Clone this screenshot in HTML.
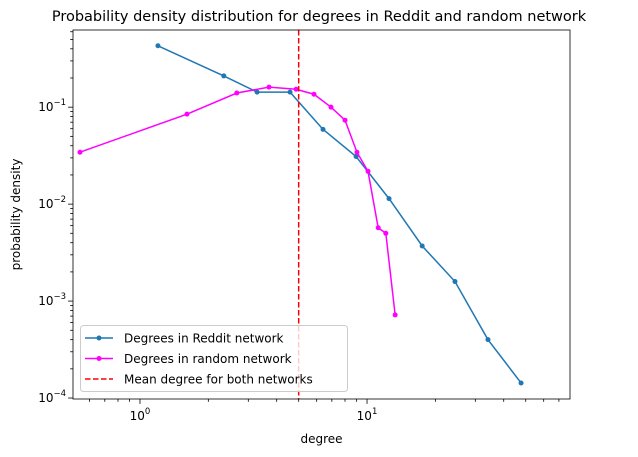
<!DOCTYPE html>
<html><head><meta charset="utf-8"><style>
html,body{margin:0;padding:0;background:#fff;}
svg{display:block;font-family:"DejaVu Sans","Liberation Sans",sans-serif;}
</style></head><body>
<svg id="chart" width="638" height="457" viewBox="0 0 638 457"></svg>
<script>
const redditX=[1.2,2.34,3.28,4.58,6.4,8.95,12.5,17.5,24.4,34.1,47.7];
const redditY=[0.43,0.21,0.143,0.143,0.059,0.031,0.0114,0.0037,0.00159,0.0004,0.000143];
const randomX=[0.544,1.61,2.67,3.7,4.87,5.84,6.94,8.0,9.03,10.1,11.2,12.1,13.3];
const randomY=[0.0343,0.0847,0.14,0.161,0.153,0.136,0.1,0.0734,0.0343,0.0218,0.0057,0.005,0.00072];
const meanDegree=[5.0];
const xTicks=[0,1];
const yTicks=[-4,-3,-2,-1];
const legendLabels=["Degrees in Reddit network","Degrees in random network","Mean degree for both networks"];

const L=73,R=570,T=30,B=399;
const xmin=-0.295,xmax=1.894,ymin=-4.01,ymax=-0.204;
const sx=v=>L+(Math.log10(v)-xmin)/(xmax-xmin)*(R-L);
const sy=v=>B-(Math.log10(v)-ymin)/(ymax-ymin)*(B-T);
const NS="http://www.w3.org/2000/svg";
const svg=document.getElementById('chart');
function mk(tag,attrs,parent){const e=document.createElementNS(NS,tag);for(const k in attrs)e.setAttribute(k,attrs[k]);(parent||svg).appendChild(e);return e;}

let t=mk('text',{x:319,y:21,'text-anchor':'middle','font-size':14.5,fill:'#000'});


t.textContent='Probability density distribution for degrees in Reddit and random network';

const ticks=mk('g',{stroke:'#000','stroke-width':0.8});


for(let d=-1;d<=1;d++){for(let m=1;m<10;m++){const v=m*Math.pow(10,d);const lv=Math.log10(v);if(lv<xmin||lv>xmax)continue;const x=sx(v);mk('line',{x1:x,x2:x,y1:B,y2:B+(m===1?4.9:2.8)},ticks);}}
for(let d=-5;d<=0;d++){for(let m=1;m<10;m++){const v=m*Math.pow(10,d);const lv=Math.log10(v);if(lv<ymin||lv>ymax)continue;const y=sy(v);mk('line',{x1:L,x2:L-(m===1?4.9:2.8),y1:y,y2:y},ticks);}}
xTicks.forEach(e=>{const x=sx(Math.pow(10,e));const g=mk('text',{x:x,y:B+21,'text-anchor':'middle','font-size':12});


g.innerHTML='10<tspan dy="-6" font-size="8.5">'+e+'</tspan>';});
yTicks.forEach(e=>{const y=sy(Math.pow(10,e));const g=mk('text',{x:L-7,y:y+4,'text-anchor':'end','font-size':12});


g.innerHTML='10<tspan dy="-6" font-size="8.5">'+(e<0?'\u2212'+(-e):e)+'</tspan>';});

let xl=mk('text',{x:(L+R)/2,y:443,'text-anchor':'middle','font-size':12});


xl.textContent='degree';
let yl=mk('text',{x:20,y:(T+B)/2,'text-anchor':'middle','font-size':12,transform:'rotate(-90 20 '+((T+B)/2)+')'});


yl.textContent='probability density';

function series(xs,ys,color,name){
  const g=mk('g',{});
  
  
  mk('polyline',{points:xs.map((x,i)=>sx(x)+','+sy(ys[i])).join(' '),fill:'none',stroke:color,'stroke-width':1.5},g);
  xs.forEach((x,i)=>{const c=mk('circle',{cx:sx(x),cy:sy(ys[i]),r:2.5,fill:color},g);
  
  });
}
series(redditX,redditY,'#1f77b4','reddit-series');
series(randomX,randomY,'#ff00ff','random-series');
let ml=mk('line',{x1:sx(meanDegree[0]),x2:sx(meanDegree[0]),y1:T,y2:B,stroke:'#ff0000','stroke-width':1.5,'stroke-dasharray':'5.5,2.5'});



let fr=mk('rect',{x:L,y:T,width:R-L,height:B-T,fill:'none',stroke:'#000','stroke-width':0.8});



const lg=mk('g',{});


mk('rect',{x:80.5,y:325.5,width:267,height:66,rx:3,fill:'#fff','fill-opacity':0.8,stroke:'#ccc'},lg);
const cols=['#1f77b4','#ff00ff','#ff0000'];
legendLabels.forEach((s,i)=>{const y=338+i*20.5;
  const e=mk('g',{},lg);
  
  
  if(i<2){mk('line',{x1:85,x2:113,y1:y,y2:y,stroke:cols[i],'stroke-width':1.5},e);mk('circle',{cx:99,cy:y,r:2.5,fill:cols[i]},e);}
  else mk('line',{x1:85,x2:113,y1:y,y2:y,stroke:cols[i],'stroke-width':1.5,'stroke-dasharray':'5.5,2.5'},e);
  const tx=mk('text',{x:124,y:y+4.5,'font-size':12},e);tx.textContent=s;});
</script>
</body></html>
